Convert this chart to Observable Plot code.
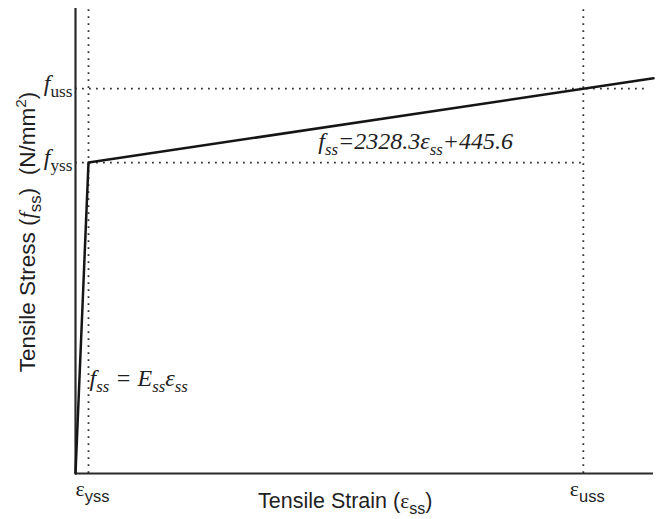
<!DOCTYPE html>
<html><head><meta charset="utf-8">
<script src="https://cdn.jsdelivr.net/npm/d3@7"></script>
<script src="https://cdn.jsdelivr.net/npm/@observablehq/plot@0.6"></script>
<style>html,body{margin:0;padding:0;background:#fff;}</style>
</head><body><div id="chart"></div>
<script>
// Schematic bilinear stress–strain model
const strainPts = [0, 0.0025, 0.1112];
const stressPts = [0, 450, 572];
const xTicks = [0.0025, 0.0977];           // ε_yss, ε_uss
const yTicks = [450, 557];                  // f_yss, f_uss
const hDotStress = [450, 557];
const hDotEnd = [0.0977, 0.1096];
const xMax = 0.1112, yMax = 673;
const xTickPlain = ["εyss", "εuss"];
const yTickPlain = ["fyss", "fuss"];
const xTickSegs = [[["ε","serif"],["yss","sans","sub"]], [["ε","serif"],["uss","sans","sub"]]];
const yTickSegs = [[["f","serifi"],["yss","serif","sub"]], [["f","serifi"],["uss","serif","sub"]]];
const xTitleSegs = [["Tensile Strain (","sans"],["ε","serif"],["ss","sans","sub"],[")","sans"]];
const yTitleSegs = [["Tensile Stress (","sans"],["f","serifi"],["ss","sans","sub"],[")  (N/mm","sans"],["2","sans","sup"],[")","sans"]];
const eqX = [0.0467, 0.0027];
const eqY = [470, 127];
const eqPlain = ["fss=2328.3εss+445.6", "fss=Essεss"];
const eqSegs = [
  [["f","serifi"],["ss","serifi","sub"],["=2328.3","serifi"],["ε","serifi"],["ss","serifi","sub"],["+445.6","serifi"]],
  [["f","serifi"],["ss","serifi","sub"],[" = ","serifi"],["E","serifi"],["ss","serifi","sub"],["ε","serifi"],["ss","serifi","sub"]]
];

const points = strainPts.map((x, i) => ({x, y: stressPts[i]}));
const hLines = hDotStress.map((y, i) => ({y, x2: hDotEnd[i]}));
const eqs = eqX.map((x, i) => ({x, y: eqY[i], t: eqPlain[i]}));

const FONTS = {sans: "'Liberation Sans', Arial, sans-serif", serif: "'Liberation Serif', 'Times New Roman', serif"};
const INK = "#1f1f1f";

function rich(textEl, segs, size, subScale = 0.7) {
  const t = d3.select(textEl);
  t.selectAll("*").remove();
  t.text(null);
  let shift = 0;
  for (const [s, font, pos] of segs) {
    const ts = t.append("tspan").text(s);
    ts.attr("font-family", font.startsWith("serif") ? FONTS.serif : FONTS.sans)
      .attr("font-style", font === "serifi" ? "italic" : "normal")
      .attr("xml:space", "preserve");
    let target = 0, fs = size;
    if (pos === "sub") { target = size * 0.28; fs = size * subScale; }
    else if (pos === "sup") { target = -size * 0.42; fs = size * 0.68; }
    ts.attr("font-size", fs);
    if (target !== shift) { ts.attr("dy", (target - shift).toFixed(2)); shift = target; }
  }
  t.style("white-space", "pre");
}

const dots = {stroke: "#333", strokeWidth: 1.8, strokeDasharray: "1.8 5.2"};
const plot = Plot.plot({
  width: 659, height: 519,
  marginLeft: 75, marginRight: 6, marginTop: 8, marginBottom: 46,
  x: {domain: [0, xMax]},
  y: {domain: [0, yMax]},
  style: {background: "#fff", color: INK},
  marks: [
    Plot.ruleX(xTicks, {y1: 0, y2: yMax, ...dots}),
    Plot.ruleY(hLines, {y: "y", x1: 0, x2: "x2", ...dots}),
    Plot.ruleX([0], {stroke: "#2a2a2a", strokeWidth: 2.2}),
    Plot.ruleY([0], {stroke: "#2a2a2a", strokeWidth: 2.2}),
    Plot.line(points, {x: "x", y: "y", stroke: "#151515", strokeWidth: 2.5}),
    Plot.axisX(xTicks, {tickSize: 0, tickPadding: 0, label: null, fontSize: 22,
      tickFormat: d => xTickPlain[xTicks.indexOf(d)]}),
    Plot.axisY(yTicks, {tickSize: 0, tickPadding: 3, label: null, fontSize: 24,
      tickFormat: d => yTickPlain[yTicks.indexOf(d)]}),
    Plot.text(eqs, {x: "x", y: "y", text: "t", textAnchor: "start", lineAnchor: "bottom", fontSize: 24, fill: INK})
  ]
});

const svg = d3.select(plot);
svg.selectAll('g[aria-label="x-axis tick label"] text').each(function(_, i) {
  rich(this, xTickSegs[i], 22, 0.75);
  d3.select(this).attr("y", 22).attr("dx", 4);
});
svg.selectAll('g[aria-label="y-axis tick label"] text').each(function(_, i) {
  rich(this, yTickSegs[i], 24, 0.72);
  d3.select(this).attr("y", 2);
});
svg.selectAll('g[aria-label="text"] text').each(function(_, i) {
  rich(this, eqSegs[i], 24, 0.7);
  d3.select(this).attr("y", 0);
});

// axis titles
const xt = svg.append("text").attr("x", 258).attr("y", 508).attr("fill", INK).attr("text-anchor", "start");
rich(xt.node(), xTitleSegs, 21.5, 0.75);
const yt = svg.append("text").attr("transform", "translate(35,232) rotate(-90)").attr("fill", INK).attr("text-anchor", "middle");
rich(yt.node(), yTitleSegs, 22.5, 0.75);

document.getElementById("chart").append(plot);
</script>
</body></html>
